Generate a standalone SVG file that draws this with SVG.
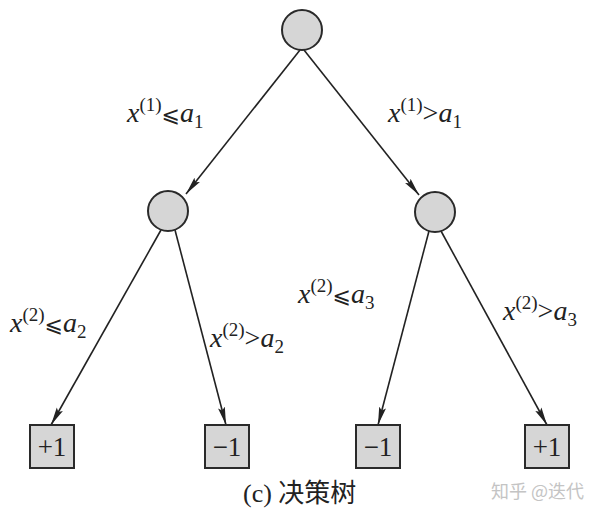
<svg xmlns="http://www.w3.org/2000/svg" width="600" height="518" viewBox="0 0 600 518">
<style>
.node{fill:#d6d6d6;stroke:#2a2a2a;stroke-width:2}
.edge{stroke:#222;stroke-width:1.6;fill:none}
.lbl{font-size:28px;fill:#222}
.v{font-style:italic}
.s{font-size:19px}
.le{font-size:22px}
.leaf{font-size:27px;fill:#222;text-anchor:middle}
.cap{font-size:26px;fill:#222}
.wm{font-size:18px;fill:#c4c4c4}
</style>
<defs>
<marker id="arr" markerUnits="userSpaceOnUse" markerWidth="19" markerHeight="8" refX="18" refY="4" orient="auto">
<path d="M0,0.5 L18,4 L0,7.5 L3,4 z" fill="#222"/>
</marker>
</defs>
<rect width="600" height="518" fill="#fff"/>
<g id="connectors">
<line class="edge" x1="300" y1="50" x2="186" y2="194" marker-end="url(#arr)"/>
<line class="edge" x1="304" y1="50" x2="419" y2="195" marker-end="url(#arr)"/>
<line class="edge" x1="161" y1="230" x2="51" y2="425" marker-end="url(#arr)"/>
<line class="edge" x1="175" y1="230" x2="226" y2="425" marker-end="url(#arr)"/>
<line class="edge" x1="429" y1="231" x2="378" y2="425" marker-end="url(#arr)"/>
<line class="edge" x1="441" y1="231" x2="547" y2="425" marker-end="url(#arr)"/>
</g>
<g id="root"><circle class="node" cx="302" cy="30" r="20"/></g>
<g id="left"><circle class="node" cx="168" cy="211" r="20"/></g>
<g id="right"><circle class="node" cx="435" cy="212" r="20"/></g>
<g font-family="Liberation Serif, DejaVu Serif, serif">
<g id="leaf1"><rect class="node" x="30" y="425" width="44" height="43"/><text class="leaf" x="52" y="456">+1</text></g>
<g id="leaf2"><rect class="node" x="205" y="425" width="44" height="43"/><text class="leaf" x="227" y="456">−1</text></g>
<g id="leaf3"><rect class="node" x="356" y="425" width="44" height="43"/><text class="leaf" x="378" y="456">−1</text></g>
<g id="leaf4"><rect class="node" x="525" y="425" width="44" height="43"/><text class="leaf" x="547" y="456">+1</text></g>
<g id="labels">
<text class="lbl" x="127" y="122"><tspan class="v">x</tspan><tspan class="s" dy="-11">(1)</tspan><tspan class="le" dy="11" font-family="DejaVu Serif, DejaVu Sans, serif">⩽</tspan><tspan class="v">a</tspan><tspan class="s" dy="6">1</tspan></text>
<text class="lbl" x="388" y="122"><tspan class="v">x</tspan><tspan class="s" dy="-11">(1)</tspan><tspan dy="11">&gt;</tspan><tspan class="v">a</tspan><tspan class="s" dy="6">1</tspan></text>
<text class="lbl" x="10" y="332"><tspan class="v">x</tspan><tspan class="s" dy="-11">(2)</tspan><tspan class="le" dy="11" font-family="DejaVu Serif, DejaVu Sans, serif">⩽</tspan><tspan class="v">a</tspan><tspan class="s" dy="6">2</tspan></text>
<text class="lbl" x="210" y="347"><tspan class="v">x</tspan><tspan class="s" dy="-11">(2)</tspan><tspan dy="11">&gt;</tspan><tspan class="v">a</tspan><tspan class="s" dy="6">2</tspan></text>
<text class="lbl" x="298" y="303"><tspan class="v">x</tspan><tspan class="s" dy="-11">(2)</tspan><tspan class="le" dy="11" font-family="DejaVu Serif, DejaVu Sans, serif">⩽</tspan><tspan class="v">a</tspan><tspan class="s" dy="6">3</tspan></text>
<text class="lbl" x="503" y="320"><tspan class="v">x</tspan><tspan class="s" dy="-11">(2)</tspan><tspan dy="11">&gt;</tspan><tspan class="v">a</tspan><tspan class="s" dy="6">3</tspan></text>
</g>
<text class="cap" x="243" y="502">(c) <tspan font-family="Noto Sans CJK SC, sans-serif">决策树</tspan></text>
</g>
<text class="wm" x="491" y="498" font-family="Noto Sans CJK SC, sans-serif">知乎 @迭代</text>
</svg>
